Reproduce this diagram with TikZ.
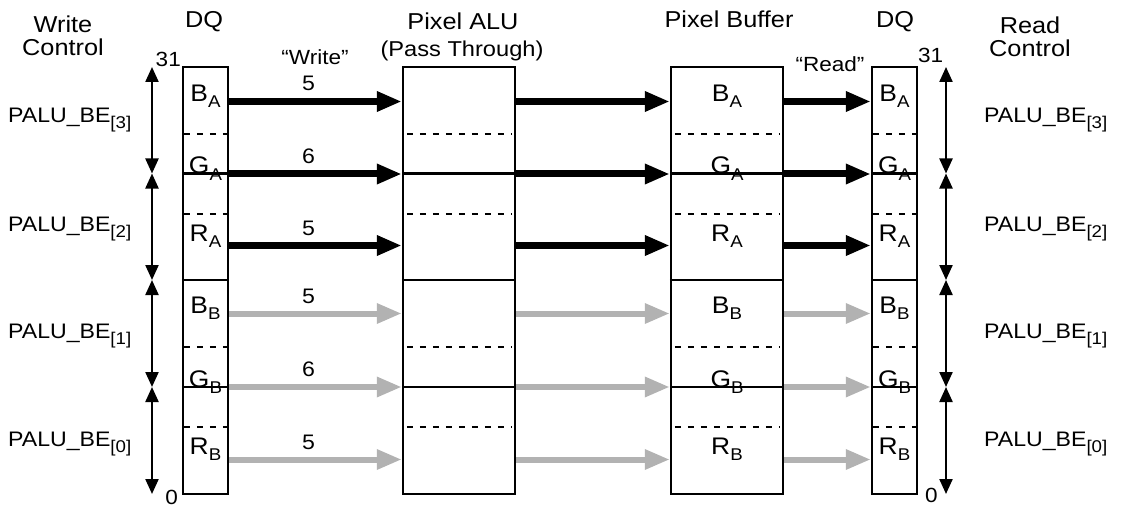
\documentclass[tikz,border=0pt]{standalone}
\usepackage{fontspec}
\setmainfont{Liberation Sans}[FakeStretch=1.1]
\usetikzlibrary{arrows.meta, positioning}
\newcommand{\lowidx}[1]{\raisebox{-6pt}{\fontsize{17}{17}\selectfont #1}}

\begin{document}
\begin{tikzpicture}[
x=1pt, y=-1pt,
font=\fontsize{21}{23}\selectfont,
regbox/.style={draw,
rectangle,
line width=2.4pt,
inner sep=0pt,
minimum height=427pt},
sepline/.style={line width=2.4pt},
dotline/.style={line width=2.4pt, dash pattern=on 6pt off 7pt},
busarrow/.style={-{Triangle[length=25pt, width=19pt]}},
hiarrow/.style={busarrow, line width=7pt, black},
loarrow/.style={busarrow, line width=6pt, black!30},
rangearrow/.style={{Triangle[length=15pt, width=13pt]}-{Triangle[length=15pt, width=13pt]}, line width=2.2pt},
head/.style={font=\fontsize{23}{23.5}\selectfont, align=center, inner sep=0pt},
field/.style={anchor=base, inner sep=0pt},
bename/.style={font=\fontsize{21}{22}\selectfont, anchor=base west, inner sep=0pt}
]
\useasboundingbox (0,0) rectangle (1122,508);

% headers
\node[head] (wctlhead) at (63,36) {Write\\Control};
\node[head, anchor=base] (dqwhead) at (204,28) {DQ};
\node[head, anchor=base] (aluhead) at (463,30) {Pixel ALU};
\node[head, anchor=base, font=\fontsize{21.5}{23}\selectfont] (alusub) at (462,57) {(Pass Through)};
\node[head, anchor=base] (bufhead) at (729,28) {Pixel Buffer};
\node[head, anchor=base] (dqrhead) at (895,28) {DQ};
\node[head] (rctlhead) at (1030,37) {Read\\Control};

% the four registers
\node[regbox, minimum width=45pt] (dqw) at (205.5,280.5) {};
\node[regbox, minimum width=112pt] (alu) at (459,280.5) {};
\node[regbox, minimum width=112pt] (buf) at (727,280.5) {};
\node[regbox, minimum width=45pt] (dqr) at (894.5,280.5) {};

% byte borders and field borders
\coordinate (top) at (0,67);
\coordinate (byte2) at (0,173.5);
\coordinate (byte1) at (0,280);
\coordinate (byte0) at (0,387);
\coordinate (bottom) at (0,494);
\foreach \bx in {dqw, alu, buf, dqr} {
  \foreach \b in {byte2, byte1, byte0}
    \draw[sepline] (\bx.west |- \b) -- (\bx.east |- \b);
}
\foreach \yy in {134, 214, 347, 427} {
  \draw[dotline] ([xshift=2pt]dqw.west |- 0,\yy) -- ([xshift=-2pt]dqw.east |- 0,\yy);
  \draw[dotline] ([xshift=5pt]alu.west |- 0,\yy) -- ([xshift=-5pt]alu.east |- 0,\yy);
  \draw[dotline] ([xshift=5pt]buf.west |- 0,\yy) -- ([xshift=-5pt]buf.east |- 0,\yy);
  \draw[dotline] ([xshift=2pt]dqr.west |- 0,\yy) -- ([xshift=-2pt]dqr.east |- 0,\yy);
}

% fields
\foreach \bx in {dqw, buf, dqr} {
  \node[field, font=\fontsize{24}{24}\selectfont] (\bx BA) at (\bx.center |- 0,102) {B\lowidx{A}};
  \node[field, font=\fontsize{24}{24}\selectfont] (\bx GA) at (\bx.center |- 0,174) {G\lowidx{A}};
  \node[field, font=\fontsize{24}{24}\selectfont] (\bx RA) at (\bx.center |- 0,241) {R\lowidx{A}};
  \node[field, font=\fontsize{24}{24}\selectfont] (\bx BB) at (\bx.center |- 0,313) {B\lowidx{B}};
  \node[field, font=\fontsize{24}{24}\selectfont] (\bx GB) at (\bx.center |- 0,387) {G\lowidx{B}};
  \node[field, font=\fontsize{24}{24}\selectfont] (\bx RB) at (\bx.center |- 0,454) {R\lowidx{B}};
}

% data paths
\coordinate (BA) at (0,101.5);
\coordinate (GA) at (0,174);
\coordinate (RA) at (0,245.5);
\coordinate (BB) at (0,313.5);
\coordinate (GB) at (0,387);
\coordinate (RB) at (0,459.5);
\coordinate (numx) at (308.5,0);
\foreach \row/\sty/\n in {BA/hiarrow/5, GA/hiarrow/6, RA/hiarrow/5, BB/loarrow/5, GB/loarrow/6, RB/loarrow/5} {
  \draw[\sty] (dqw.east |- \row) -- (alu.west |- \row);
  \draw[\sty] (alu.east |- \row) -- (buf.west |- \row);
  \draw[\sty] (buf.east |- \row) -- (dqr.west |- \row);
  \node[field] (n\row) at ([yshift=10.5pt]numx |- \row) {\n};
}
\node[field, font=\fontsize{20.5}{22}\selectfont] (wrlabel) at (315,65) {“Write”};
\node[field, font=\fontsize{20.5}{22}\selectfont] (rdlabel) at (830,72) {“Read”};

% bit numbers
\node[field, anchor=base east, font=\fontsize{20.5}{22}\selectfont] (wmsb) at (181,67) {31};
\node[field, anchor=base east, font=\fontsize{20.5}{22}\selectfont] (wlsb) at (178,504) {0};
\node[field, anchor=base west, font=\fontsize{20.5}{22}\selectfont] (rmsb) at (918,63) {31};
\node[field, anchor=base west, font=\fontsize{20.5}{22}\selectfont] (rlsb) at (925,502) {0};

% byte enables
\coordinate (wctl) at (152,0);
\coordinate (rctl) at (946,0);
\draw[rangearrow] (wctl |- top) -- (wctl |- byte2);
\draw[rangearrow] (wctl |- byte2) -- (wctl |- byte1);
\draw[rangearrow] (wctl |- byte1) -- (wctl |- byte0);
\draw[rangearrow] (wctl |- byte0) -- (wctl |- bottom);
\draw[rangearrow] (rctl |- top) -- (rctl |- byte2);
\draw[rangearrow] (rctl |- byte2) -- (rctl |- byte1);
\draw[rangearrow] (rctl |- byte1) -- (rctl |- byte0);
\draw[rangearrow] (rctl |- byte0) -- (rctl |- bottom);

\node[bename] (wbe3) at (8,123) {PALU\_BE\lowidx{[3]}};
\node[bename] (wbe2) at (8,231) {PALU\_BE\lowidx{[2]}};
\node[bename] (wbe1) at (8,338) {PALU\_BE\lowidx{[1]}};
\node[bename] (wbe0) at (8,446) {PALU\_BE\lowidx{[0]}};
\node[bename] (rbe3) at (984,123) {PALU\_BE\lowidx{[3]}};
\node[bename] (rbe2) at (984,231) {PALU\_BE\lowidx{[2]}};
\node[bename] (rbe1) at (984,338) {PALU\_BE\lowidx{[1]}};
\node[bename] (rbe0) at (984,446) {PALU\_BE\lowidx{[0]}};

\end{tikzpicture}
\end{document}
